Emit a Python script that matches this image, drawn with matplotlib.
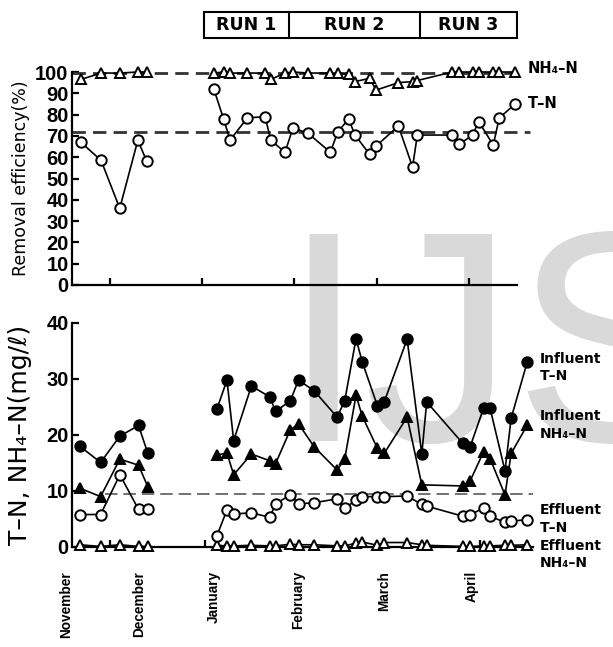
import numpy as np
import matplotlib
matplotlib.use('Agg')
import matplotlib.pyplot as plt
from matplotlib.patches import Rectangle

# ---------------- data (x = days after 1 November) ----------------
days_nd = [20.2, 27.0, 33.3, 39.4, 42.4]
days_ja = [65, 68.3, 70.5, 76.3, 82.3, 84.2, 89, 91.7, 96.8, 104.3, 106.8, 110.5,
           112.5, 117.5, 119.7, 127.2, 132, 133.6, 145.4, 147.8, 152.2, 154.3,
           159.2, 161.2, 166.5]

# removal efficiency (%)
rem_tn_nd = [67, 58.5, 36, 68, 58]
rem_tn_ja = [92, 78, 68, 78.5, 79, 68, 62.3, 73.8, 71.2, 62.3, 72, 77.9, 70.6,
             61.4, 65.2, 74.7, 55.4, 70.4, 70.4, 66.1, 70.4, 76.7, 65.7, 78.4, 84.9]
rem_nh4_nd = [96.5, 99.5, 99.5, 100, 100]
rem_nh4_ja = [99.5, 100, 99.5, 99.5, 99.5, 96.5, 99.5, 100, 99.5, 99.5, 99.5, 99,
              95.5, 97, 91.5, 95, 95.5, 96, 100, 100, 100, 100, 100, 100, 100]

# concentrations (mg/l)
inf_tn_nd = [18.0, 15.1, 19.8, 21.7, 16.8]
inf_tn_ja = [24.6, 29.8, 19.0, 28.75, 26.8, 24.2, 26.1, 29.8, 27.9, 23.2, 26.1, 37.2,
             33.1, 25.2, 25.9, 37.1, 16.6, 25.9, 18.5, 17.9, 24.8, 24.8, 13.6, 23.0, 33.1]
inf_nh4_nd = [10.5, 9.0, 15.7, 14.6, 10.8]
inf_nh4_ja = [16.4, 16.8, 12.9, 16.6, 15.4, 14.9, 20.9, 22.0, 17.9, 13.75, 15.7, 27.1,
              23.4, 17.6, 16.7, 23.2, 11.1, None, 10.9, 11.8, 17.0, 15.8, 9.3, 16.7, 21.8]
eff_tn_nd = [5.8, 5.8, 12.9, 6.7, 6.7]
eff_tn_ja = [2.0, 6.6, 5.9, 6.1, 5.3, 7.7, 9.3, 7.7, 7.9, 8.6, 6.9, 8.4, 9.0, 9.0, 9.0,
             9.1, 7.6, 7.3, 5.5, 5.7, 7.0, 5.5, 4.4, 4.6, 4.9]
eff_nh4_nd = [0.4, 0.1, 0.4, 0.1, 0.1]
eff_nh4_ja = [0.3, 0.2, 0.2, 0.3, 0.2, 0.2, 0.5, 0.4, 0.4, 0.2, 0.2, 0.7, 0.9, 0.3,
              0.8, 0.8, 0.4, 0.3, 0.1, 0.1, 0.2, 0.2, 0.3, 0.3, 0.4]

month_starts = [30, 61, 92, 120, 151]
month_names = ['November', 'December', 'January', 'February', 'March', 'April']
month_label_x = [15.7, 39.6, 64.1, 91.5, 119.6, 148.4]

runs = ['RUN 1', 'RUN 2', 'RUN 3']
run_bounds = [61.7, 90.3, 134.5, 167.2]

tn_target = 72
nh4_target = 99.5
eff_target = 9.5

# ---------------- styling ----------------
NARROW = ['Liberation Sans Narrow', 'Liberation Sans', 'DejaVu Sans']
BOLD = ['DejaVu Sans']
W, H = 613, 647

fig = plt.figure(figsize=(W / 100, H / 100), dpi=100)
fig.patch.set_facecolor('white')

# watermark
fig.text(281 / W, (H - 441) / H, 'IJS', fontsize=216, color='#d9d9d9',
         family=['Liberation Sans', 'DejaVu Sans'], ha='left', va='baseline', zorder=-10)

ax1 = fig.add_axes([72 / W, (H - 285) / H, 445 / W, 213 / H])
ax2 = fig.add_axes([72 / W, (H - 547) / H, 461 / W, 224 / H])

for ax in (ax1, ax2):
    ax.patch.set_alpha(0)
    for s in ('top', 'right'):
        ax.spines[s].set_visible(False)
    for s in ('left', 'bottom'):
        ax.spines[s].set_linewidth(1.6)
    ax.tick_params(direction='in', length=5, width=1.6, pad=2.5)
    ax.set_xticks(month_starts)
    ax.set_xticklabels([])

ax1.set_xlim(17.2, 167.2)
ax1.set_ylim(0, 100)
ax2.set_xlim(17.65, 168.35)
ax2.set_ylim(0, 40)
ax1.set_yticks(range(0, 101, 10))
ax2.set_yticks(range(0, 41, 10))
for ax in (ax1, ax2):
    for lbl in ax.get_yticklabels():
        lbl.set_family(NARROW)
        lbl.set_fontweight('bold')
        lbl.set_fontsize(14.5)

LW = 1.2
MS = 7.5
MEW = 1.4


def seg(ax, xs, ys, marker, filled, ms=MS):
    pts = [(x, y) for x, y in zip(xs, ys) if y is not None]
    xx = [p[0] for p in pts]
    yy = [p[1] for p in pts]
    ax.plot(xx, yy, color='black', lw=LW, marker=marker, ms=ms, mew=MEW,
            mfc='black' if filled else 'white', mec='black', clip_on=False, zorder=3)


# top panel
ax1.plot([17.2, 167.2], [nh4_target] * 2, color='#333333', lw=2.0,
         linestyle=(0, (4.8, 2.6)), zorder=2, clip_on=False)
ax1.plot([17.2, 171.6], [tn_target] * 2, color='#333333', lw=2.0,
         linestyle=(0, (4.8, 2.6)), zorder=2, clip_on=False)
seg(ax1, days_nd, rem_nh4_nd, '^', False)
seg(ax1, days_ja, rem_nh4_ja, '^', False)
seg(ax1, days_nd, rem_tn_nd, 'o', False)
seg(ax1, days_ja, rem_tn_ja, 'o', False)

ax1.set_ylabel('Removal efficiency(%)', fontsize=12.5, family=['DejaVu Sans'])
ax1.yaxis.set_label_coords(-42 / 445, 0.5)

ax1.text(170.8, 101.5, 'NH₄–N', fontsize=10.5, fontweight='bold', family=BOLD,
         va='center', ha='left', clip_on=False)
ax1.text(170.8, 85, 'T–N', fontsize=10.5, fontweight='bold', family=BOLD,
         va='center', ha='left', clip_on=False)

# RUN boxes
y0, y1 = 116, 128.2
ax1.add_patch(Rectangle((run_bounds[0], y0), run_bounds[-1] - run_bounds[0], y1 - y0,
                        fill=False, lw=1.5, ec='black', clip_on=False))
for b in run_bounds[1:-1]:
    ax1.plot([b, b], [y0, y1], color='black', lw=1.5, clip_on=False)
for i, r in enumerate(runs):
    xc = (run_bounds[i] + run_bounds[i + 1]) / 2
    ax1.text(xc, (y0 + y1) / 2, r, ha='center', va='center', fontsize=12.5,
             fontweight='bold', family=BOLD, clip_on=False)

# bottom panel
ax2.plot([28.4, 168.4], [eff_target] * 2, color='#666666', lw=1.3,
         linestyle=(0, (6.9, 3.3)), zorder=2, clip_on=False)
seg(ax2, days_nd, eff_nh4_nd, '^', False, ms=7)
seg(ax2, days_ja, eff_nh4_ja, '^', False, ms=7)
seg(ax2, days_nd, eff_tn_nd, 'o', False)
seg(ax2, days_ja, eff_tn_ja, 'o', False)
seg(ax2, days_nd, inf_nh4_nd, '^', True)
seg(ax2, days_ja, inf_nh4_ja, '^', True)
seg(ax2, days_nd, inf_tn_nd, 'o', True)
seg(ax2, days_ja, inf_tn_ja, 'o', True)

ax2.set_ylabel('T–N, NH₄–N(mg/ℓ)', fontsize=18, family=['DejaVu Sans'])
ax2.yaxis.set_label_coords(-40 / 461, 0.5)

side = [('Influent\nT–N', 32.1), ('Influent\nNH₄–N', 21.8),
        ('Effluent\nT–N', 5.0), ('Effluent\nNH₄–N', -1.4)]
for txt, yv in side:
    ax2.text(170.6, yv, txt, fontsize=10, fontweight='bold', family=BOLD,
             va='center', ha='left', linespacing=1.3, clip_on=False)

for name, xm in zip(month_names, month_label_x):
    ax2.text(xm, -4.3, name, rotation=90, ha='center', va='top', fontsize=9.8,
             fontweight='bold', family=NARROW, clip_on=False)

fig.savefig('out.png', dpi=100, facecolor='white')
